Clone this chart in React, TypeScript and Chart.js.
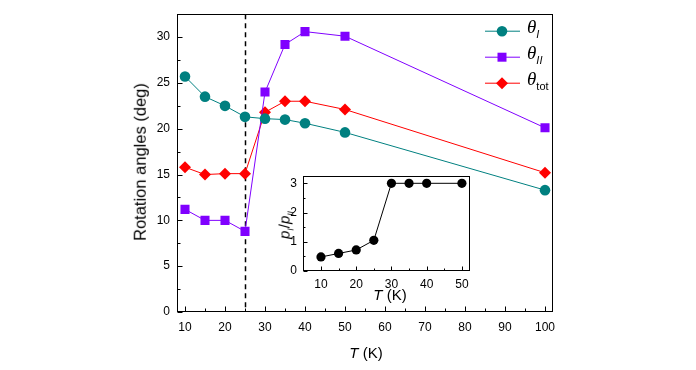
import React, { useEffect, useRef } from "react";
import { Chart, registerables } from "chart.js";
Chart.register(...registerables);

// ---- data ----
const temps = [10, 15, 20, 25, 30, 35, 40, 50, 100];
const thetaI = [25.7, 23.5, 22.5, 21.3, 21.1, 21.0, 20.6, 19.6, 13.3];
const thetaII = [11.2, 10.0, 10.0, 8.8, 24.0, 29.2, 30.6, 30.1, 20.1];
const thetaTot = [15.8, 15.0, 15.1, 15.1, 21.8, 23.0, 23.0, 22.1, 15.2];
const insetTemps = [10, 15, 20, 25, 30, 35, 40, 50];
const ratio = [0.48, 0.6, 0.72, 1.05, 3.0, 3.0, 3.0, 3.0];

const mainXTicks = [10, 20, 30, 40, 50, 60, 70, 80, 90, 100];
const mainXMinor = [15, 25, 35, 45, 55, 65, 75, 85, 95];
const mainYTicks = [0, 5, 10, 15, 20, 25, 30];
const mainYMinor = [2.5, 7.5, 12.5, 17.5, 22.5, 27.5];
const insetXTicks = [10, 20, 30, 40, 50];
const insetXMinor = [15, 25, 35, 45];
const insetYTicks = [0, 1, 2, 3];
const insetYMinor = [0.5, 1.5, 2.5];
const transitionT = 25;

const TEAL = "#008080";
const PURPLE = "#8000FF";
const RED = "#FF0000";
const FONT = "'Liberation Sans', Arial, sans-serif";

const frameTicks = {
  id: "frameTicks",
  afterDatasetsDraw(chart: any, _args: any, opts: any) {
    const { ctx, chartArea: a, scales } = chart;
    const x = scales.x, y = scales.y;
    ctx.save();
    ctx.strokeStyle = "#000";
    ctx.lineWidth = 1;
    const L = Math.round(a.left) + 0.5, R = Math.round(a.right) - 0.5;
    const T = Math.round(a.top) + 0.5, B = Math.round(a.bottom) - 0.5;
    ctx.strokeRect(L, T, R - L, B - T);
    ctx.beginPath();
    const maj = opts.major || 5, min = opts.minor || 3;
    (opts.xMajor || []).forEach((v: number) => {
      const px = Math.round(x.getPixelForValue(v)) + 0.5;
      ctx.moveTo(px, B); ctx.lineTo(px, B - maj);
    });
    (opts.xMinor || []).forEach((v: number) => {
      const px = Math.round(x.getPixelForValue(v)) + 0.5;
      ctx.moveTo(px, B); ctx.lineTo(px, B - min);
    });
    (opts.yMajor || []).forEach((v: number) => {
      const py = Math.round(y.getPixelForValue(v)) + 0.5;
      ctx.moveTo(L, py); ctx.lineTo(L + maj, py);
    });
    (opts.yMinor || []).forEach((v: number) => {
      const py = Math.round(y.getPixelForValue(v)) + 0.5;
      ctx.moveTo(L, py); ctx.lineTo(L + min, py);
    });
    ctx.stroke();
    ctx.restore();
  },
};

const dashedLine = {
  id: "dashedLine",
  beforeDatasetsDraw(chart: any, _args: any, opts: any) {
    if (opts.value == null) return;
    const { ctx, chartArea: a, scales } = chart;
    const px = Math.round(scales.x.getPixelForValue(opts.value)) + 0.5;
    ctx.save();
    ctx.strokeStyle = "#000";
    ctx.lineWidth = 1.5;
    ctx.setLineDash([5, 4]);
    ctx.beginPath();
    ctx.moveTo(px, a.top);
    ctx.lineTo(px, a.bottom);
    ctx.stroke();
    ctx.restore();
  },
};

const legendSamples = {
  id: "legendSamples",
  afterDatasetsDraw(chart: any, _args: any, opts: any) {
    if (!opts.items) return;
    const { ctx, chartArea: a } = chart;
    ctx.save();
    opts.items.forEach((it: any, i: number) => {
      const yy = a.top + 17 + i * 26;
      const x0 = a.right - 68, x1 = a.right - 33, xm = a.right - 51;
      ctx.strokeStyle = it.color;
      ctx.fillStyle = it.color;
      ctx.lineWidth = 1;
      ctx.beginPath();
      ctx.moveTo(x0, yy); ctx.lineTo(x1, yy);
      ctx.stroke();
      ctx.beginPath();
      if (it.shape === "circle") {
        ctx.arc(xm, yy, 5.3, 0, Math.PI * 2);
      } else if (it.shape === "rect") {
        ctx.rect(xm - 4.5, yy - 4.5, 9, 9);
      } else {
        ctx.moveTo(xm, yy - 6); ctx.lineTo(xm + 6, yy); ctx.lineTo(xm, yy + 6); ctx.lineTo(xm - 6, yy); ctx.closePath();
      }
      ctx.fill();
    });
    ctx.restore();
  },
};

function fixedTicks(list: number[]) {
  return (scale: any) => { scale.ticks = list.map((v) => ({ value: v })); };
}

export default function App() {
  const mainRef = useRef<HTMLCanvasElement>(null);
  const insetRef = useRef<HTMLCanvasElement>(null);

  useEffect(() => {
    Chart.defaults.font.family = FONT;
    Chart.defaults.color = "#000";
    const ds = (label: string, data: number[], color: string, style: any, r: number) => ({
      label,
      data: temps.map((t, i) => ({ x: t, y: data[i] })),
      borderColor: color,
      backgroundColor: color,
      borderWidth: 1,
      pointStyle: style,
      pointRadius: r,
      pointBorderWidth: 0,
      pointBackgroundColor: color,
    });
    const main = new Chart(mainRef.current!, {
      type: "line",
      data: {
        datasets: [
          ds("θI", thetaI, TEAL, "circle", 5.3),
          ds("θII", thetaII, PURPLE, "rect", 6.4),
          ds("θtot", thetaTot, RED, "rectRot", 6),
        ],
      },
      options: {
        responsive: false,
        animation: false,
        layout: { padding: { left: 0, top: 10, right: 143, bottom: 0 } },
        plugins: {
          legend: { display: false },
          tooltip: { enabled: false },
          frameTicks: { xMajor: mainXTicks, xMinor: mainXMinor, yMajor: mainYTicks, yMinor: mainYMinor, major: 5, minor: 3 },
          dashedLine: { value: transitionT },
          legendSamples: {
            items: [
              { color: TEAL, shape: "circle" },
              { color: PURPLE, shape: "rect" },
              { color: RED, shape: "diamond" },
            ],
          },
        } as any,
        scales: {
          x: {
            type: "linear",
            min: 8,
            max: 102,
            grid: { display: false, drawTicks: false },
            border: { display: false },
            ticks: { font: { size: 12 }, color: "#000", padding: 8, maxRotation: 0 },
            afterBuildTicks: fixedTicks(mainXTicks),
            afterFit: (s: any) => { s.height = 58; },
          },
          y: {
            type: "linear",
            min: 0,
            max: 32.5,
            grid: { display: false, drawTicks: false },
            border: { display: false },
            ticks: { font: { size: 12 }, color: "#000", padding: 7 },
            afterBuildTicks: fixedTicks(mainYTicks),
            afterFit: (s: any) => { s.width = 177; },
          },
        },
      },
      plugins: [frameTicks, dashedLine, legendSamples],
    });

    const inset = new Chart(insetRef.current!, {
      type: "line",
      data: {
        datasets: [
          {
            label: "pI/pII",
            data: insetTemps.map((t, i) => ({ x: t, y: ratio[i] })),
            borderColor: "#000",
            backgroundColor: "#000",
            borderWidth: 1,
            pointStyle: "circle",
            pointRadius: 4.6,
            pointBorderWidth: 0,
          },
        ],
      },
      options: {
        responsive: false,
        animation: false,
        layout: { padding: { left: 0, top: 16, right: 10, bottom: 0 } },
        plugins: {
          legend: { display: false },
          tooltip: { enabled: false },
          frameTicks: { xMajor: insetXTicks, xMinor: insetXMinor, yMajor: insetYTicks, yMinor: insetYMinor, major: 4, minor: 2 },
        } as any,
        scales: {
          x: {
            type: "linear",
            min: 4.9,
            max: 52.3,
            grid: { display: false, drawTicks: false },
            border: { display: false },
            ticks: { font: { size: 12 }, color: "#000", padding: 6, maxRotation: 0 },
            afterBuildTicks: fixedTicks(insetXTicks),
            afterFit: (s: any) => { s.height = 34; },
          },
          y: {
            type: "linear",
            min: 0,
            max: 3.25,
            grid: { display: false, drawTicks: false },
            border: { display: false },
            ticks: { font: { size: 12 }, color: "#000", padding: 6 },
            afterBuildTicks: fixedTicks(insetYTicks),
            afterFit: (s: any) => { s.width = 63; },
          },
        },
      },
      plugins: [frameTicks],
    });

    return () => { main.destroy(); inset.destroy(); };
  }, []);

  const abs: React.CSSProperties = { position: "absolute", fontFamily: FONT, color: "#000", whiteSpace: "nowrap", lineHeight: 1 };
  const theta: React.CSSProperties = { fontFamily: "'Liberation Serif', serif", fontStyle: "italic", fontSize: 19 };
  const sub: React.CSSProperties = { fontSize: 11, position: "relative", top: 5 };
  const insetSub: React.CSSProperties = { fontSize: 8.5, fontStyle: "italic", position: "relative", top: 4 };

  return (
    <div style={{ position: "fixed", left: 0, top: 0, width: 696, height: 370, background: "#fff" }}>
      <canvas ref={mainRef} width={696} height={370} style={{ position: "absolute", left: 0, top: 0, width: 696, height: 370 }} />
      <canvas ref={insetRef} width={240} height={145} style={{ position: "absolute", left: 240, top: 160, width: 240, height: 145 }} />
      {/* main axis titles */}
      <div style={{ ...abs, fontSize: 16.5, left: 140, top: 162, transform: "translate(-50%,-50%) rotate(-90deg)" }}>
        Rotation angles (deg)
      </div>
      <div style={{ ...abs, fontSize: 15, left: 366, top: 352, transform: "translate(-50%,-50%)" }}>
        <i>T</i> (K)
      </div>
      {/* inset titles */}
      <div style={{ ...abs, fontSize: 15, left: 284, top: 225, transform: "translate(-50%,-50%) rotate(-90deg)" }}>
        <i>p</i><span style={insetSub}>I</span>/<i>p</i><span style={insetSub}>II</span>
      </div>
      <div style={{ ...abs, fontSize: 15, left: 390, top: 294, transform: "translate(-50%,-50%)" }}>
        <i>T</i> (K)
      </div>
      {/* legend text */}
      {[
        { main: "θ", s: "I", it: true, y: 27 },
        { main: "θ", s: "II", it: true, y: 53 },
        { main: "θ", s: "tot", it: false, y: 79 },
      ].map((r, i) => (
        <div key={i} style={{ ...abs, left: 527, top: r.y, transform: "translateY(-55%)" }}>
          <span style={theta}>{r.main}</span>
          <span style={{ ...sub, fontStyle: r.it ? "italic" : "normal" }}>{r.s}</span>
        </div>
      ))}
    </div>
  );
}
